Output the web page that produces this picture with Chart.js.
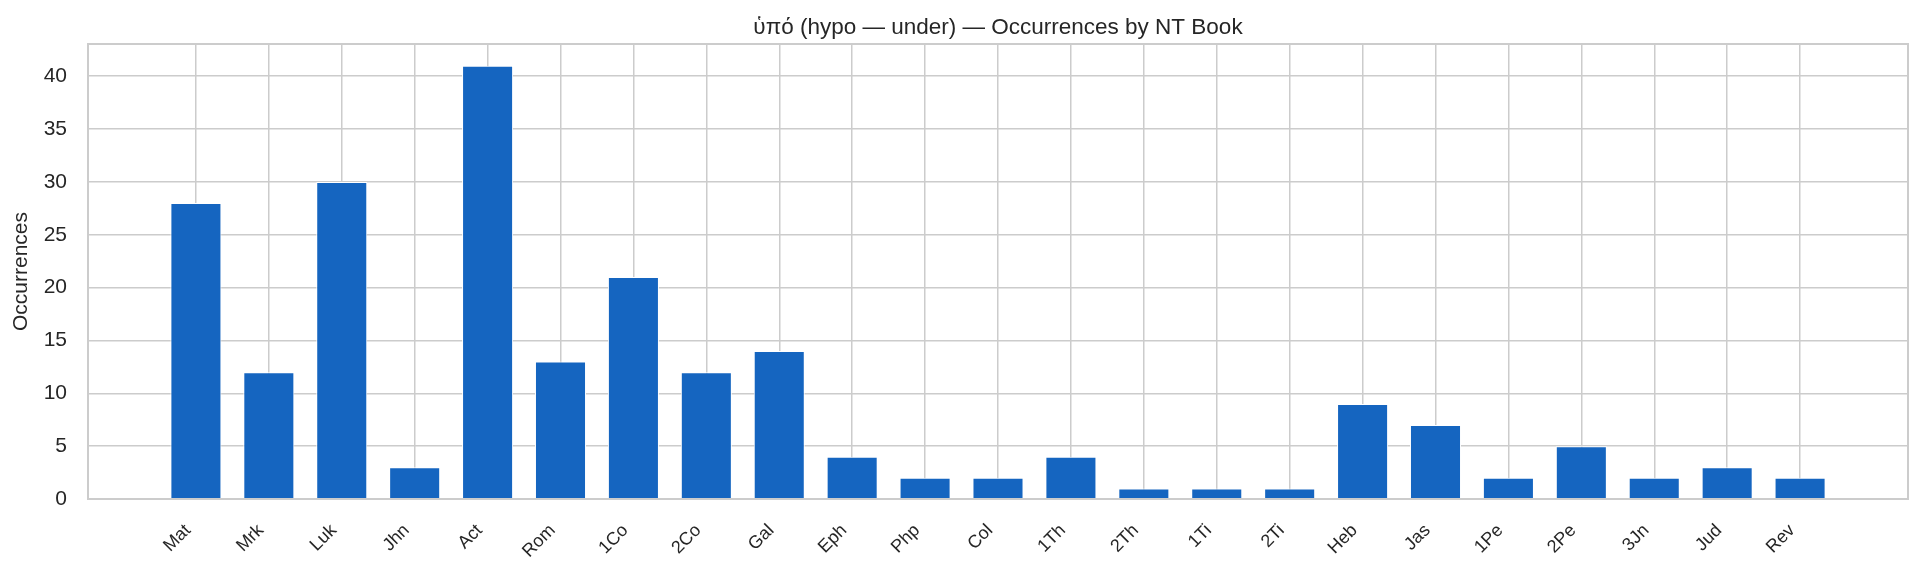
<!DOCTYPE html>
<html>
<head>
<meta charset="utf-8">
<script src="https://cdn.jsdelivr.net/npm/chart.js@4.4.1/dist/chart.umd.min.js"></script>
<style>
  html, body { margin: 0; padding: 0; background: #fff; }
  #wrap { width: 1924px; height: 575px; }
</style>
</head>
<body>
<div id="wrap"><canvas id="chart" width="1924" height="575"></canvas></div>
<script>
const books = ['Mat', 'Mrk', 'Luk', 'Jhn', 'Act', 'Rom', '1Co', '2Co', 'Gal', 'Eph', 'Php', 'Col',
    '1Th', '2Th', '1Ti', '2Ti', 'Heb', 'Jas', '1Pe', '2Pe', '3Jn', 'Jud', 'Rev'];
const counts = [28, 12, 30, 3, 41, 13, 21, 12, 14, 4, 2, 2, 4, 1, 1, 1, 9, 7, 2, 5, 2, 3, 2];
const yTicks = [0, 5, 10, 15, 20, 25, 30, 35, 40];
const titleText = 'ὑπό (hypo — under) — Occurrences by NT Book';
const yLabel = 'Occurrences';

const TEXT = '#262626';
const GRID = '#cccccc';
const FONT = "'Liberation Sans', Arial, 'DejaVu Sans', sans-serif";

// frame around the plot + title centred over the axes (like matplotlib)
const framePlugin = {
    id: 'frame',
    afterDraw(chart) {
        const { ctx, chartArea: a } = chart;
        ctx.save();
        ctx.strokeStyle = GRID;
        ctx.lineWidth = 2;
        ctx.strokeRect(a.left, a.top, a.right - a.left, a.bottom - a.top);
        ctx.fillStyle = TEXT;
        ctx.font = `22.5px ${FONT}`;
        ctx.textAlign = 'center';
        ctx.textBaseline = 'alphabetic';
        ctx.fillText(titleText, (a.left + a.right) / 2, a.top - 10.5);
        ctx.restore();
    }
};

new Chart(document.getElementById('chart'), {
    type: 'bar',
    data: {
        datasets: [{
            data: counts.map((v, i) => ({ x: i, y: v })),
            backgroundColor: '#1565C0',
            borderColor: '#ffffff',
            borderWidth: 1,
            barPercentage: 0.7,
            categoryPercentage: 1
        }]
    },
    options: {
        responsive: false,
        animation: false,
        devicePixelRatio: 1,
        layout: { padding: { top: 44, right: 16, left: 0, bottom: 0 } },
        plugins: {
            legend: { display: false },
            tooltip: { enabled: false }
        },
        scales: {
            x: {
                type: 'linear',
                offset: false,
                min: -1.48,
                max: books.length - 1 + 1.48,
                afterBuildTicks: (s) => { s.ticks = books.map((_, i) => ({ value: i })); },
                afterFit: (s) => { s.height = 76; },
                grid: { color: GRID, lineWidth: 1.5, drawTicks: false, offset: false },
                border: { display: false },
                ticks: {
                    autoSkip: false,
                    minRotation: 45,
                    maxRotation: 45,
                    padding: 21,
                    labelOffset: -8,
                    color: TEXT,
                    font: { family: FONT, size: 18 },
                    callback: (v) => books[v]
                }
            },
            y: {
                min: 0,
                max: 43.05,
                afterBuildTicks: (s) => { s.ticks = yTicks.map(v => ({ value: v })); },
                afterFit: (s) => { s.width = 88; },
                grid: { color: GRID, lineWidth: 1.5, drawTicks: false },
                border: { display: false },
                ticks: {
                    padding: 21,
                    color: TEXT,
                    font: { family: FONT, size: 21 }
                },
                title: {
                    display: true,
                    text: yLabel,
                    color: TEXT,
                    font: { family: FONT, size: 21 },
                    padding: { top: 9, bottom: 0 }
                }
            }
        }
    },
    plugins: [framePlugin]
});
</script>
</body>
</html>
